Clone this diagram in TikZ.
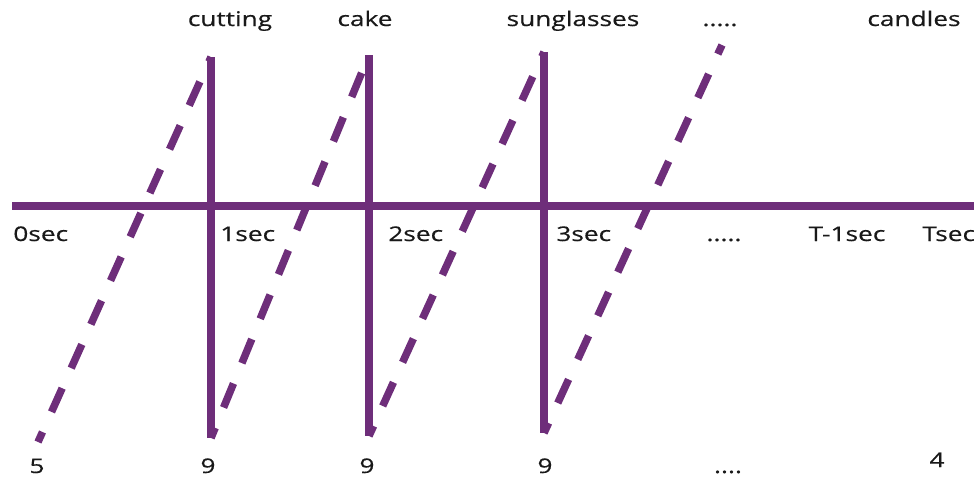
\documentclass[tikz,border=0pt]{standalone}
\usepackage{fontspec}
\setmainfont{Open Sans}[FakeStretch=1.3, FakeBold=0.5]
\usepackage{xcolor}
\usepackage{tikz}
\usetikzlibrary{calc}
\definecolor{plum}{RGB}{110, 46, 122}
\definecolor{ink}{RGB}{25, 25, 25}

\begin{document}
\begin{tikzpicture}[
    x=0.02cm, y=-0.02cm,
    axisline/.style={line width=0.16cm, color=plum},
    stroke/.style={line width=0.15cm, color=plum},
    dashstroke/.style={line width=0.15cm, color=plum, dash pattern=on 0.52cm off 0.44cm, dash phase=0.3cm},
    lbl/.style={font=\fontsize{11.5}{13}\selectfont, text=ink, inner sep=0pt, anchor=base},
    lblw/.style={lbl, anchor=base west}
]
    % Frame
    \useasboundingbox (0,0) rectangle (974,478);
    \clip (0,0) rectangle (974,478);

    % Key points
    \coordinate (axisL) at (12,206);
    \coordinate (axisR) at (980,206);
    \coordinate (top1) at (211,57);
    \coordinate (bot1) at (211,438);
    \coordinate (top2) at (369,55);
    \coordinate (bot2) at (369,436);
    \coordinate (top3) at (544,52);
    \coordinate (bot3) at (544,433);
    \coordinate (start) at (38,442);
    \coordinate (top4) at (722,45);

    % Time axis
    \draw[axisline] (axisL) -- (axisR);

    % Falling edges
    \draw[stroke] (top1) -- (bot1);
    \draw[stroke] (top2) -- (bot2);
    \draw[stroke] (top3) -- (bot3);

    % Rising ramps
    \draw[dashstroke] (start) -- (top1);
    \draw[dashstroke] (bot1) -- (top2);
    \draw[dashstroke] (bot2) -- (top3);
    \draw[dashstroke] (bot3) -- (top4);

    % Words on top
    \node[lbl] (wCutting) at (230,26) {cutting};
    \node[lbl] (wCake) at (365,26) {cake};
    \node[lbl] (wSun) at (573,26) {sunglasses};
    \node[lbl] (wDots) at (720,26) {.....};
    \node[lbl] (wCandles) at (914,26) {candles};

    % Time ticks
    \node[lblw] (s0) at (13,241) {0sec};
    \node[lblw] (s1) at (220,241) {1sec};
    \node[lblw] (s2) at (388,241) {2sec};
    \node[lblw] (s3) at (556,241) {3sec};
    \node[lbl] (sDots) at (724,241) {.....};
    \node[lbl] (sT1) at (847,241) {T-1sec};
    \node[lblw] (sT) at (922,241) {Tsec};

    % Counts
    \node[lbl] (n0) at (37,473) {5};
    \node[lbl] (n1) at (208,473) {9};
    \node[lbl] (n2) at (367,473) {9};
    \node[lbl] (n3) at (545,473) {9};
    \node[lbl] (nDots) at (728,473) {....};
    \node[lbl] (nT) at (937,467) {4};
\end{tikzpicture}
\end{document}
